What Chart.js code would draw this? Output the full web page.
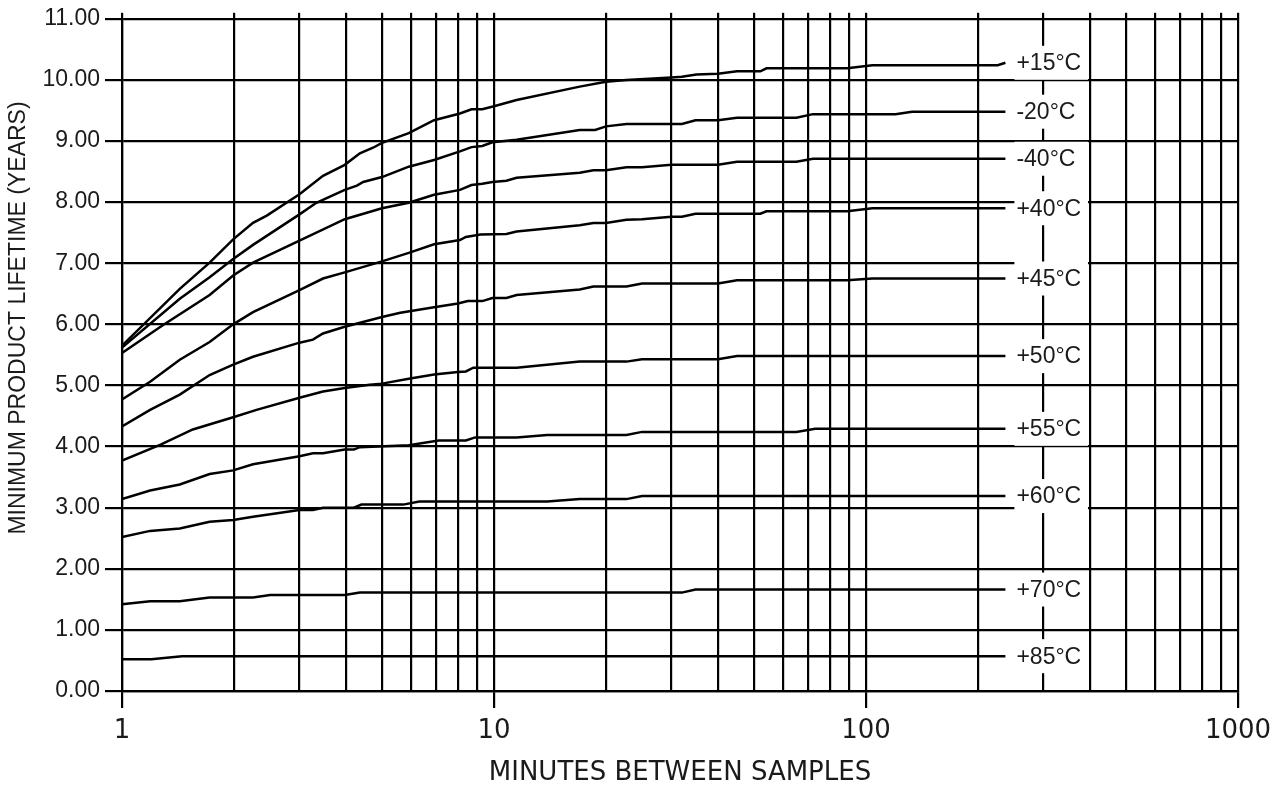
<!DOCTYPE html>
<html>
<head>
<meta charset="utf-8">
<script src="https://cdn.jsdelivr.net/npm/chart.js@4/dist/chart.umd.min.js"></script>
<style>
  html, body { margin: 0; padding: 0; background: #fff; }
  #wrap { width: 1285px; height: 786px; position: relative; }
</style>
</head>
<body>
<div id="wrap"><canvas id="life-chart"></canvas></div>
<script>
// temperature curves, minutes between samples vs minimum lifetime (years)
const tempLabels = ['+15°C', '-20°C', '-40°C', '+40°C', '+45°C', '+50°C', '+55°C', '+60°C', '+70°C', '+85°C'];

const minutes15 = [1, 1.43, 1.72, 1.99, 2.25, 2.45, 3, 3.47, 3.97, 4.36, 4.73, 5, 5.9, 6.9, 8.1, 8.7, 9.3, 10, 11.5, 17, 20, 22.7, 30, 32, 35, 40, 45, 52, 54, 89, 104, 226, 237];
const years15 = [5.65, 6.58, 7.01, 7.39, 7.66, 7.78, 8.13, 8.43, 8.61, 8.8, 8.89, 8.97, 9.13, 9.34, 9.45, 9.52, 9.52, 9.57, 9.67, 9.89, 9.97, 10.0, 10.04, 10.05, 10.09, 10.1, 10.14, 10.14, 10.19, 10.19, 10.24, 10.24, 10.28];

const minutesM20 = [1, 1.43, 1.72, 1.99, 2.25, 3, 3.33, 3.97, 4.28, 4.45, 5, 5.9, 6.9, 8.1, 8.7, 9.3, 9.9, 11.5, 17, 18.7, 20, 22.7, 32, 34.8, 40, 45, 65, 72, 120, 133, 237];
const yearsM20 = [5.62, 6.42, 6.77, 7.07, 7.3, 7.8, 7.99, 8.2, 8.27, 8.33, 8.41, 8.58, 8.69, 8.83, 8.9, 8.92, 8.98, 9.02, 9.18, 9.18, 9.24, 9.28, 9.28, 9.34, 9.34, 9.38, 9.38, 9.44, 9.44, 9.48, 9.48];

const minutesM40 = [1, 1.29, 1.72, 1.99, 2.25, 3, 3.97, 5, 5.9, 6.9, 8.1, 8.7, 9.3, 9.9, 10.8, 11.5, 17, 18.5, 20, 22.7, 25, 30, 40, 45, 65, 72, 237];
const yearsM40 = [5.53, 5.99, 6.48, 6.8, 7.01, 7.37, 7.72, 7.9, 7.99, 8.12, 8.2, 8.28, 8.3, 8.33, 8.35, 8.4, 8.48, 8.52, 8.52, 8.57, 8.57, 8.61, 8.61, 8.66, 8.66, 8.71, 8.71];

const minutes40 = [1, 1.19, 1.43, 1.72, 1.99, 2.25, 3, 3.47, 3.97, 5, 5.9, 6.9, 8.1, 8.4, 9.2, 10.8, 11.5, 17, 18.5, 20, 22.7, 25, 30, 32, 34.8, 52, 54, 89, 104, 237];
const years40 = [4.77, 5.06, 5.42, 5.71, 6.0, 6.2, 6.56, 6.75, 6.85, 7.03, 7.17, 7.31, 7.38, 7.43, 7.47, 7.48, 7.52, 7.62, 7.66, 7.66, 7.71, 7.72, 7.76, 7.76, 7.81, 7.81, 7.85, 7.85, 7.9, 7.9];

const minutes45 = [1, 1.19, 1.43, 1.72, 1.99, 2.25, 3, 3.26, 3.47, 3.97, 5, 5.6, 6.9, 8.0, 8.5, 9.3, 9.9, 10.8, 11.5, 17, 18.5, 22.7, 25, 40, 45, 89, 104, 237];
const years45 = [4.33, 4.6, 4.85, 5.17, 5.34, 5.47, 5.7, 5.75, 5.85, 5.96, 6.12, 6.19, 6.28, 6.34, 6.38, 6.38, 6.43, 6.43, 6.48, 6.57, 6.62, 6.62, 6.67, 6.67, 6.72, 6.72, 6.75, 6.75];

const minutes50 = [1, 1.27, 1.55, 1.99, 2.3, 3, 3.47, 3.97, 4.63, 5, 5.9, 6.9, 8.0, 8.4, 8.8, 11.5, 17, 22.7, 25, 40, 45, 237];
const years50 = [3.77, 4.03, 4.28, 4.48, 4.6, 4.8, 4.9, 4.96, 5.01, 5.03, 5.11, 5.18, 5.22, 5.23, 5.29, 5.29, 5.39, 5.39, 5.43, 5.43, 5.48, 5.48];

const minutes55 = [1, 1.19, 1.43, 1.72, 1.99, 2.25, 3, 3.26, 3.47, 3.97, 4.2, 4.36, 5.9, 7.1, 8.4, 8.9, 11.5, 13.9, 22.7, 25, 65, 73, 237];
const years55 = [3.14, 3.28, 3.38, 3.55, 3.61, 3.71, 3.84, 3.89, 3.89, 3.95, 3.95, 3.99, 4.02, 4.1, 4.1, 4.15, 4.15, 4.19, 4.19, 4.24, 4.24, 4.29, 4.29];

const minutes60 = [1, 1.19, 1.43, 1.72, 1.99, 2.25, 3, 3.26, 3.47, 4.2, 4.4, 5.7, 6.3, 13.9, 17, 22.7, 25, 237];
const years60 = [2.52, 2.62, 2.66, 2.77, 2.8, 2.85, 2.96, 2.96, 3.0, 3.0, 3.05, 3.05, 3.1, 3.1, 3.14, 3.14, 3.19, 3.19];

const minutes70 = [1, 1.19, 1.43, 1.72, 2.25, 2.5, 3.97, 4.36, 32, 34.8, 237];
const years70 = [1.42, 1.47, 1.47, 1.53, 1.53, 1.57, 1.57, 1.61, 1.61, 1.66, 1.66];

const minutes85 = [1, 1.2, 1.45, 237];
const years85 = [0.52, 0.52, 0.57, 0.57];

const yTicks = [0, 1, 2, 3, 4, 5, 6, 7, 8, 9, 10, 11];
const xGridTicks = [1, 2, 3, 4, 5, 6, 7, 8, 9, 10, 20, 30, 40, 50, 60, 70, 80, 90,
  100, 200, 300, 400, 500, 600, 700, 800, 900, 1000];
const xLabelTicks = [1, 10, 100, 1000];

const series = [
  [minutes15, years15], [minutesM20, yearsM20], [minutesM40, yearsM40], [minutes40, years40],
  [minutes45, years45], [minutes50, years50], [minutes55, years55], [minutes60, years60],
  [minutes70, years70], [minutes85, years85]
];

// white boxes with the temperature name at the end of every curve
const endLabels = {
  id: 'endLabels',
  afterDatasetsDraw(chart) {
    const c = chart.ctx;
    const xs = chart.scales.x;
    const boxRight = xs.getPixelForValue(400) - 2;
    c.save();
    c.font = '23px "Liberation Sans", Arial, sans-serif';
    c.textBaseline = 'middle';
    c.textAlign = 'left';
    chart.data.datasets.forEach((ds, i) => {
      const pts = chart.getDatasetMeta(i).data;
      const last = pts[pts.length - 1];
      const left = last.x + 9;
      c.fillStyle = '#fff';
      c.fillRect(left, last.y - 17, boxRight - left, 34);
      c.fillStyle = '#1a1a1a';
      c.fillText(ds.label, left + 2, last.y + 1);
    });
    c.restore();
  }
};

const yTitle = {
  id: 'yTitle',
  afterDraw(chart) {
    const c = chart.ctx;
    c.save();
    c.translate(19, 318);
    c.rotate(-Math.PI / 2);
    c.font = '23px "Liberation Sans", Arial, sans-serif';
    c.fillStyle = '#1a1a1a';
    c.textAlign = 'center';
    c.textBaseline = 'middle';
    c.fillText('MINIMUM PRODUCT LIFETIME (YEARS)', 0, 0);
    c.restore();
  }
};

const ctx = document.getElementById('life-chart');

const life_chart = new Chart(ctx, {
  type: 'line',
  data: {
    datasets: series.map((s, i) => ({
      label: tempLabels[i],
      data: s[0].map((m, j) => ({ x: m, y: s[1][j] })),
      borderColor: '#000',
      borderWidth: 2.5,
      tension: 0,
      pointRadius: 0,
      fill: false
    }))
  },
  options: {
    responsive: true,
    maintainAspectRatio: false,
    animation: false,
    layout: { padding: { top: 9, right: 47, bottom: 0, left: 0 } },
    plugins: { legend: { display: false }, tooltip: { enabled: false } },
    scales: {
      x: {
        type: 'logarithmic',
        position: 'bottom',
        min: 1,
        max: 1000,
        afterBuildTicks: s => { s.ticks = xGridTicks.map(v => ({ value: v })); },
        grid: {
          color: '#000',
          lineWidth: 2.2,
          tickLength: 17,
          tickWidth: 2.2,
          tickColor: c => (c.tick && xLabelTicks.includes(c.tick.value)) ? '#000' : 'rgba(0,0,0,0)'
        },
        border: { color: '#000', width: 2.2 },
        ticks: {
          autoSkip: false,
          maxRotation: 0,
          padding: 8,
          color: '#1a1a1a',
          font: { family: '"DejaVu Sans", Verdana, sans-serif', size: 26 },
          callback: v => xLabelTicks.includes(v) ? String(v) : ''
        },
        title: {
          display: true,
          text: 'MINUTES BETWEEN SAMPLES',
          color: '#1a1a1a',
          font: { family: '"DejaVu Sans", Verdana, sans-serif', size: 26, lineHeight: 1 },
          padding: { top: 0, bottom: 0 }
        },
        afterFit: s => { s.height = 95; }
      },
      xTop: {
        type: 'logarithmic',
        position: 'top',
        min: 1,
        max: 1000,
        afterBuildTicks: s => { s.ticks = xGridTicks.map(v => ({ value: v })); },
        grid: { drawOnChartArea: false, color: '#000', tickLength: 6, tickWidth: 2.2, lineWidth: 2.2 },
        border: { display: false },
        ticks: { display: false },
        afterFit: s => { s.height = 6; }
      },
      y: {
        min: 0,
        max: 11,
        afterBuildTicks: s => { s.ticks = yTicks.map(v => ({ value: v })); },
        grid: { color: '#000', lineWidth: 2.2, tickLength: 17, tickWidth: 2.2 },
        border: { color: '#000', width: 2.2 },
        ticks: {
          padding: 5,
          color: '#1a1a1a',
          font: { family: '"Liberation Sans", Arial, sans-serif', size: 23 },
          callback: v => v.toFixed(2)
        },
        afterFit: s => { s.width = 122; }
      }
    }
  },
  plugins: [endLabels, yTitle]
});
</script>
</body>
</html>
